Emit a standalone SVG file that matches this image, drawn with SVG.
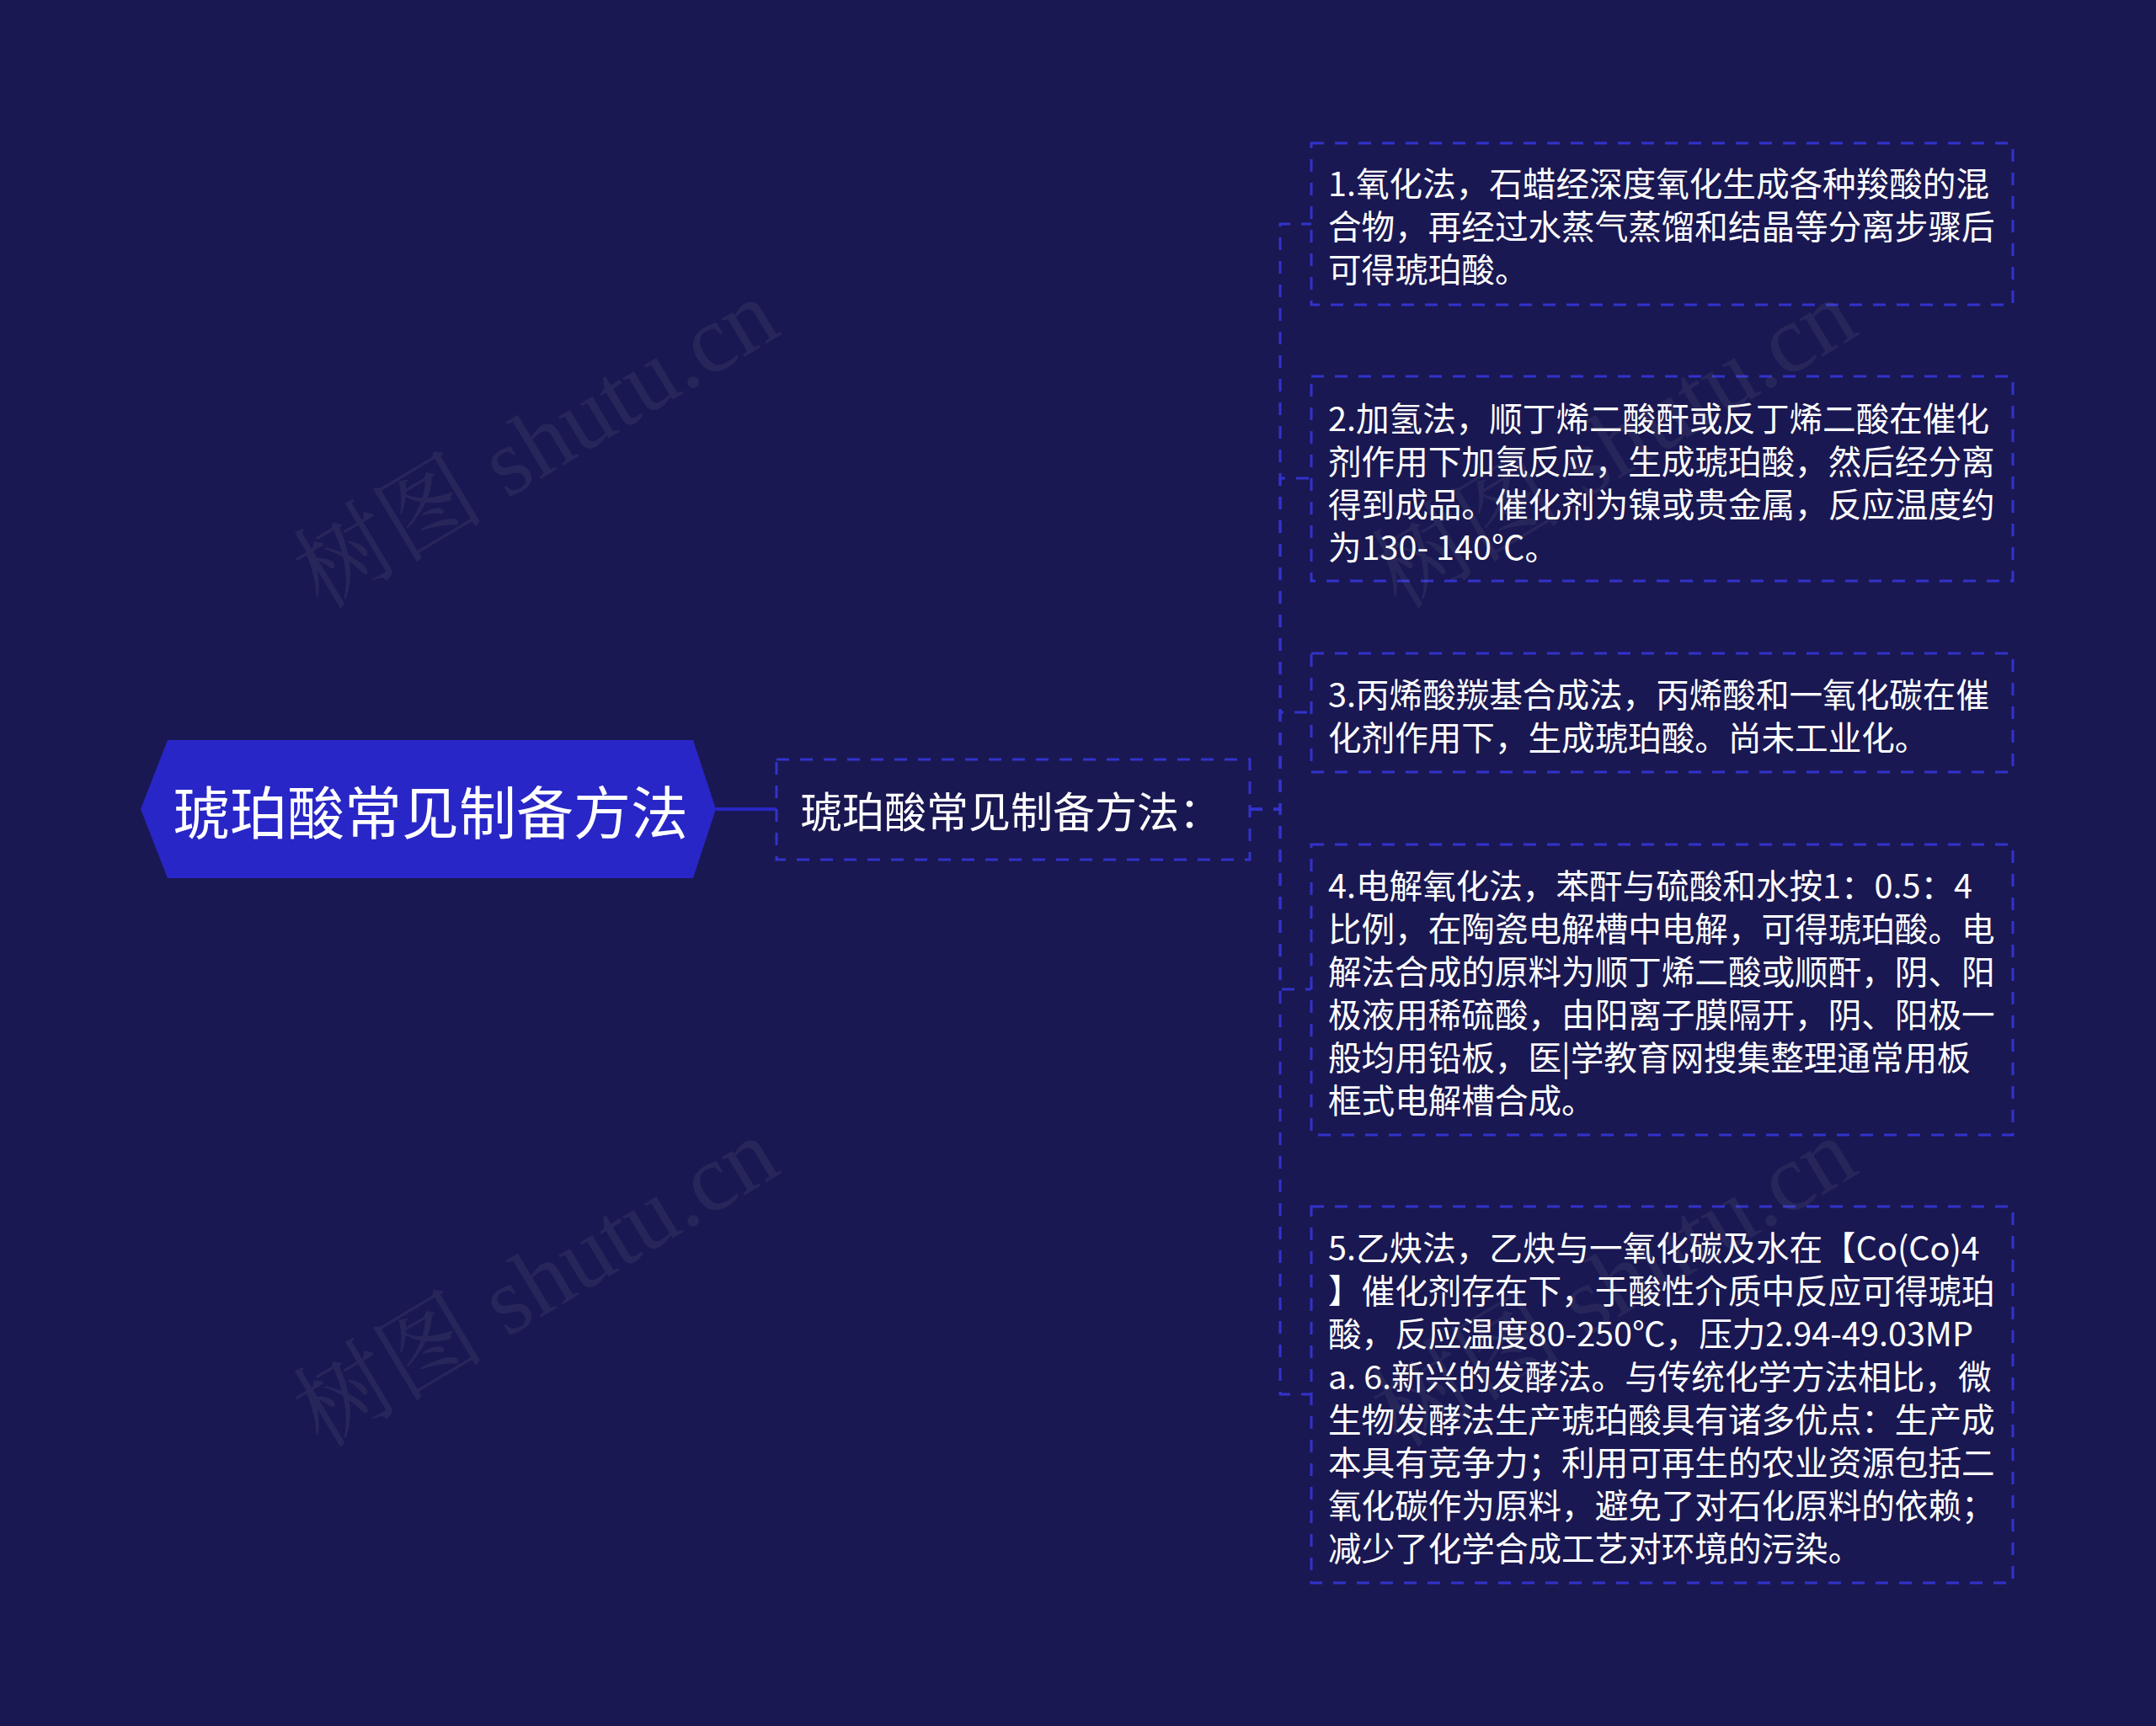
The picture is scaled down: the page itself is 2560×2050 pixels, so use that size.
<svg xmlns="http://www.w3.org/2000/svg" width="2560" height="2050" viewBox="0 0 2560 2050">
<defs>
<style>
.bg{fill:#1a1852}
.root{fill:#2826c6}
.rtxt{font-family:"Microsoft YaHei","Noto Sans CJK SC",sans-serif;font-size:68px;fill:#ffffff}
.box{fill:none;stroke:#3232cc;stroke-width:3;stroke-dasharray:15 13}
.ltxt{font-family:"Microsoft YaHei","Noto Sans CJK SC",sans-serif;font-size:50px;fill:#ffffff}
.ctxt{font-family:"Microsoft YaHei","Noto Sans CJK SC",sans-serif;font-size:39.6px;fill:#ffffff}
.dash{fill:none;stroke:#3232cc;stroke-width:3;stroke-dasharray:15 13}
.solid{fill:none;stroke:#2826c6;stroke-width:4}
.wm{font-family:"Liberation Serif","Noto Serif CJK SC","Noto Sans CJK SC",serif;font-size:114px;fill:#8a8a9a;fill-opacity:0.12}
</style>
</defs>
<rect class="bg" x="0" y="0" width="2560" height="2050"/>

<g id="connectors">
<line class="solid" x1="850" y1="961" x2="922" y2="961"/>
<path class="dash" d="M1484 961 H1520 V266 H1557"/>
<path class="dash" d="M1484 961 H1520 V568 H1557"/>
<path class="dash" d="M1484 961 H1520 V846 H1557"/>
<path class="dash" d="M1484 961 H1520 V1175 H1557"/>
<path class="dash" d="M1484 961 H1520 V1656 H1557"/>
</g>

<g id="root">
<polygon class="root" points="167,961 199,879 823,879 850,961 823,1043 199,1043"/>
<text class="rtxt" x="511" y="961" text-anchor="middle" dominant-baseline="central">琥珀酸常见制备方法</text>
</g>

<g id="label">
<rect class="box" x="922" y="902" width="562" height="119"/>
<text class="ltxt" x="950" y="961" dominant-baseline="central">琥珀酸常见制备方法：</text>
</g>

<g id="child1">
<rect class="box" x="1557" y="170" width="833" height="192"/>
<text class="ctxt" x="1577" dominant-baseline="central">
<tspan x="1577" y="215">1.氧化法，石蜡经深度氧化生成各种羧酸的混</tspan>
<tspan x="1577" y="266">合物，再经过水蒸气蒸馏和结晶等分离步骤后</tspan>
<tspan x="1577" y="317">可得琥珀酸。</tspan>
</text>
</g>

<g id="child2">
<rect class="box" x="1557" y="447" width="833" height="243"/>
<text class="ctxt" x="1577" dominant-baseline="central">
<tspan x="1577" y="494">2.加氢法，顺丁烯二酸酐或反丁烯二酸在催化</tspan>
<tspan x="1577" y="545">剂作用下加氢反应，生成琥珀酸，然后经分离</tspan>
<tspan x="1577" y="596">得到成品。催化剂为镍或贵金属，反应温度约</tspan>
<tspan x="1577" y="647">为130- 140℃。</tspan>
</text>
</g>

<g id="child3">
<rect class="box" x="1557" y="776" width="833" height="141"/>
<text class="ctxt" x="1577" dominant-baseline="central">
<tspan x="1577" y="822">3.丙烯酸羰基合成法，丙烯酸和一氧化碳在催</tspan>
<tspan x="1577" y="873">化剂作用下，生成琥珀酸。尚未工业化。</tspan>
</text>
</g>

<g id="child4">
<rect class="box" x="1557" y="1003" width="833" height="345"/>
<text class="ctxt" x="1577" dominant-baseline="central">
<tspan x="1577" y="1049">4.电解氧化法，苯酐与硫酸和水按1：0.5：4</tspan>
<tspan x="1577" y="1100">比例，在陶瓷电解槽中电解，可得琥珀酸。电</tspan>
<tspan x="1577" y="1151">解法合成的原料为顺丁烯二酸或顺酐，阴、阳</tspan>
<tspan x="1577" y="1202">极液用稀硫酸，由阳离子膜隔开，阴、阳极一</tspan>
<tspan x="1577" y="1253">般均用铅板，医|学教育网搜集整理通常用板</tspan>
<tspan x="1577" y="1304">框式电解槽合成。</tspan>
</text>
</g>

<g id="child5">
<rect class="box" x="1557" y="1433" width="833" height="447"/>
<text class="ctxt" x="1577" dominant-baseline="central">
<tspan x="1577" y="1479">5.乙炔法，乙炔与一氧化碳及水在【Co(Co)4</tspan>
<tspan x="1577" y="1530">】催化剂存在下，于酸性介质中反应可得琥珀</tspan>
<tspan x="1577" y="1581">酸，反应温度80-250℃，压力2.94-49.03MP</tspan>
<tspan x="1577" y="1632">a. 6.新兴的发酵法。与传统化学方法相比，微</tspan>
<tspan x="1577" y="1683">生物发酵法生产琥珀酸具有诸多优点：生产成</tspan>
<tspan x="1577" y="1734">本具有竞争力；利用可再生的农业资源包括二</tspan>
<tspan x="1577" y="1785">氧化碳作为原料，避免了对石化原料的依赖；</tspan>
<tspan x="1577" y="1836">减少了化学合成工艺对环境的污染。</tspan>
</text>
</g>

<g id="watermarks">
<text class="wm" x="382" y="725" transform="rotate(-31 382 725)">树图 shutu.cn</text>
<text class="wm" x="382" y="1721" transform="rotate(-31 382 1721)">树图 shutu.cn</text>
<text class="wm" x="1662" y="725" transform="rotate(-31 1662 725)">树图 shutu.cn</text>
<text class="wm" x="1662" y="1721" transform="rotate(-31 1662 1721)">树图 shutu.cn</text>
</g>
</svg>
